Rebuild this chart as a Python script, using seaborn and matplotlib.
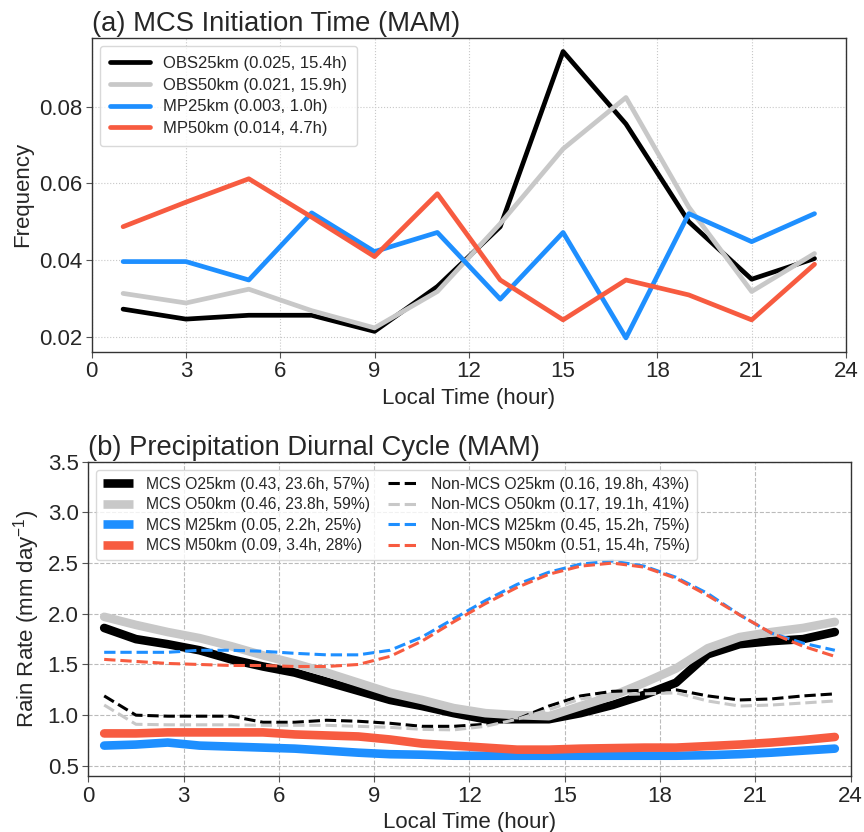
import numpy as np
import pandas as pd
import matplotlib
matplotlib.use("Agg")
import matplotlib.pyplot as plt
import seaborn as sns

# ---------------- data ----------------
init_hours = [1, 3, 5, 7, 9, 11, 13, 15, 17, 19, 21, 23]
obs25_init = [0.0272, 0.0246, 0.0256, 0.0256, 0.0214, 0.0331, 0.0487, 0.0944, 0.0755, 0.0500, 0.0350, 0.0404]
obs50_init = [0.0313, 0.0288, 0.0324, 0.0268, 0.0223, 0.0318, 0.0495, 0.0690, 0.0824, 0.0538, 0.0318, 0.0417]
mp25_init = [0.0396, 0.0396, 0.0348, 0.0523, 0.0422, 0.0472, 0.0298, 0.0472, 0.0197, 0.0521, 0.0448, 0.0521]
mp50_init = [0.0487, 0.0551, 0.0612, 0.0512, 0.0409, 0.0573, 0.0348, 0.0244, 0.0348, 0.0309, 0.0244, 0.0389]
init_labels = ["OBS25km (0.025, 15.4h)", "OBS50km (0.021, 15.9h)",
               "MP25km (0.003, 1.0h)", "MP50km (0.014, 4.7h)"]

rain_hours = [0.5, 1.5, 2.5, 3.5, 4.5, 5.5, 6.5, 7.5, 8.5, 9.5, 10.5, 11.5,
              12.5, 13.5, 14.5, 15.5, 16.5, 17.5, 18.5, 19.5, 20.5, 21.5, 22.5, 23.5]
mcs_o25 = [1.86, 1.75, 1.70, 1.64, 1.55, 1.48, 1.42, 1.33, 1.24, 1.15, 1.09, 1.02,
           0.96, 0.96, 0.96, 1.02, 1.10, 1.20, 1.32, 1.60, 1.70, 1.73, 1.75, 1.82]
mcs_o50 = [1.97, 1.89, 1.82, 1.76, 1.68, 1.59, 1.51, 1.42, 1.32, 1.22, 1.15, 1.07,
           1.02, 1.00, 0.99, 1.09, 1.19, 1.32, 1.46, 1.66, 1.77, 1.82, 1.86, 1.92]
mcs_m25 = [0.70, 0.71, 0.73, 0.70, 0.69, 0.68, 0.67, 0.65, 0.63, 0.615, 0.61, 0.60,
           0.60, 0.60, 0.60, 0.60, 0.60, 0.60, 0.60, 0.605, 0.615, 0.63, 0.65, 0.67]
mcs_m50 = [0.82, 0.82, 0.83, 0.83, 0.83, 0.83, 0.81, 0.80, 0.79, 0.76, 0.72, 0.70,
           0.68, 0.66, 0.66, 0.67, 0.675, 0.68, 0.68, 0.695, 0.71, 0.73, 0.755, 0.785]
non_o25 = [1.19, 1.00, 0.99, 0.99, 0.99, 0.93, 0.93, 0.95, 0.94, 0.92, 0.89, 0.89,
           0.91, 0.96, 1.09, 1.19, 1.235, 1.245, 1.25, 1.19, 1.15, 1.16, 1.19, 1.21]
non_o50 = [1.10, 0.91, 0.905, 0.905, 0.905, 0.90, 0.90, 0.90, 0.89, 0.88, 0.86, 0.855,
           0.89, 0.96, 1.055, 1.16, 1.20, 1.21, 1.22, 1.14, 1.09, 1.10, 1.12, 1.14]
non_m25 = [1.62, 1.62, 1.62, 1.64, 1.64, 1.63, 1.61, 1.595, 1.595, 1.64, 1.77, 1.95,
           2.13, 2.29, 2.41, 2.49, 2.52, 2.47, 2.36, 2.20, 1.99, 1.81, 1.71, 1.64]
non_m50 = [1.55, 1.53, 1.51, 1.50, 1.49, 1.49, 1.48, 1.48, 1.50, 1.58, 1.73, 1.92,
           2.10, 2.26, 2.39, 2.47, 2.50, 2.46, 2.35, 2.18, 1.99, 1.81, 1.68, 1.58]
mcs_labels = ["MCS O25km (0.43, 23.6h, 57%)", "MCS O50km (0.46, 23.8h, 59%)",
              "MCS M25km (0.05, 2.2h, 25%)", "MCS M50km (0.09, 3.4h, 28%)"]
non_labels = ["Non-MCS O25km (0.16, 19.8h, 43%)", "Non-MCS O50km (0.17, 19.1h, 41%)",
              "Non-MCS M25km (0.45, 15.2h, 75%)", "Non-MCS M50km (0.51, 15.4h, 75%)"]

colors = ["black", "#c8c8c8", "#1e8fff", "#f75b40"]

# ---------------- style ----------------
sns.set_theme(style="white")
plt.rcParams["font.family"] = ["Liberation Sans", "DejaVu Sans"]
plt.rcParams["mathtext.fontset"] = "custom"
plt.rcParams["mathtext.rm"] = "Liberation Sans"
plt.rcParams["mathtext.it"] = "Liberation Sans:italic"

fig = plt.figure(figsize=(8.64, 8.32), dpi=100)
ax1 = fig.add_axes([0.1061, 0.5773, 0.873, 0.3774])
ax2 = fig.add_axes([0.1022, 0.0673, 0.8824, 0.3778])

# ---------------- panel (a) ----------------
df_a = pd.DataFrame({"hour": init_hours, "obs25": obs25_init, "obs50": obs50_init,
                     "mp25": mp25_init, "mp50": mp50_init})
for col, lab, c in zip(["obs25", "obs50", "mp25", "mp50"], init_labels, colors):
    sns.lineplot(data=df_a, x="hour", y=col, ax=ax1, color=c, linewidth=3.4,
                 label=lab, legend=False)
ax1.set_xlim(0, 24)
ax1.set_ylim(0.0161, 0.098)
ax1.set_xticks(np.arange(0, 25, 3))
ax1.set_yticks([0.02, 0.04, 0.06, 0.08])
ax1.grid(True, linestyle=":", color="#c8c8c8", linewidth=0.8)
ax1.set_xlabel("Local Time (hour)", fontsize=16)
ax1.set_ylabel("Frequency", fontsize=16)
ax1.set_title("(a) MCS Initiation Time (MAM)", loc="left", fontsize=19.7, pad=5)
ax1.legend(loc="upper left", fontsize=12, handlelength=2.4, labelspacing=0.4,
           borderpad=0.6, frameon=True, fancybox=True, edgecolor="#d0d0d0")

# ---------------- panel (b) ----------------
df_b = pd.DataFrame({"hour": rain_hours,
                     "mo25": mcs_o25, "mo50": mcs_o50, "mm25": mcs_m25, "mm50": mcs_m50,
                     "no25": non_o25, "no50": non_o50, "nm25": non_m25, "nm50": non_m50})
for col, lab, c in zip(["mo25", "mo50", "mm25", "mm50"], mcs_labels, colors):
    sns.lineplot(data=df_b, x="hour", y=col, ax=ax2, color=c, linewidth=6.2,
                 label=lab, legend=False)
for col, lab, c in zip(["no25", "no50", "nm25", "nm50"], non_labels, colors):
    sns.lineplot(data=df_b, x="hour", y=col, ax=ax2, color=c, linewidth=2.2,
                 linestyle="--", label=lab, legend=False)
ax2.set_xlim(0, 24)
ax2.set_ylim(0.4, 3.5)
ax2.set_xticks(np.arange(0, 25, 3))
ax2.set_yticks(np.arange(0.5, 3.51, 0.5))
ax2.grid(True, linestyle="--", color="#bbbbbb", linewidth=0.8)
ax2.set_xlabel("Local Time (hour)", fontsize=16)
ax2.set_ylabel("Rain Rate (mm day$^{-1}$)", fontsize=16)
ax2.set_title("(b) Precipitation Diurnal Cycle (MAM)", loc="left", fontsize=19.7, pad=5)
leg = ax2.legend(loc="upper left", ncol=2, fontsize=11.3, handlelength=1.9,
                 columnspacing=1.2, labelspacing=0.35, borderpad=0.45, frameon=True,
                 fancybox=True, edgecolor="#d0d0d0")
for h in leg.get_lines()[:4]:
    h.set_solid_capstyle("butt")

for ax in (ax1, ax2):
    for s in ax.spines.values():
        s.set_color("#333333")
        s.set_linewidth(1.0)
    ax.tick_params(axis="both", which="major", labelsize=16, length=4, width=0.8,
                   color="#555555", bottom=True, left=True, direction="out", pad=3)

fig.savefig("out.png", dpi=100)
